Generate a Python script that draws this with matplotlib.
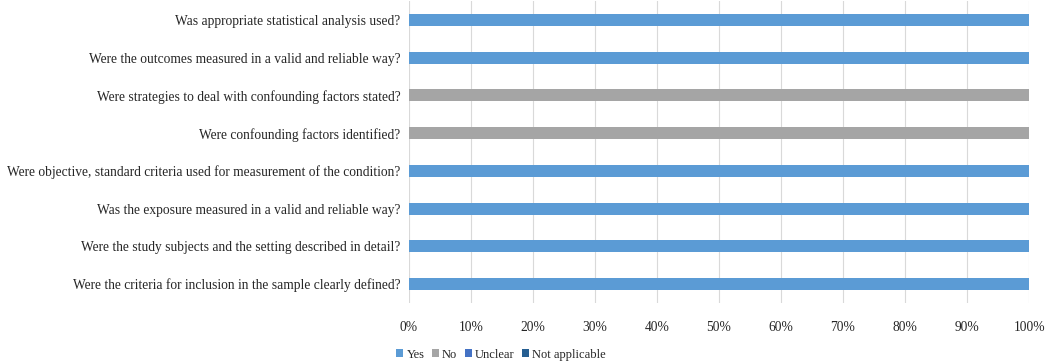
import numpy as np
import matplotlib.pyplot as plt

# Questions (bottom to top as drawn)
questions = [
    "Were the criteria for inclusion in the sample clearly defined?",
    "Were the study subjects and the setting described in detail?",
    "Was the exposure measured in a valid and reliable way?",
    "Were objective, standard criteria used for measurement of the condition?",
    "Were confounding factors identified?",
    "Were strategies to deal with confounding factors stated?",
    "Were the outcomes measured in a valid and reliable way?",
    "Was appropriate statistical analysis used?",
]

# Share of studies per answer (%)
yes = [100, 100, 100, 100, 0, 0, 100, 100]
no = [0, 0, 0, 0, 100, 100, 0, 0]
unclear = [0, 0, 0, 0, 0, 0, 0, 0]
not_applicable = [0, 0, 0, 0, 0, 0, 0, 0]

series = [("Yes", yes, "#5B9BD5"),
          ("No", no, "#A5A5A5"),
          ("Unclear", unclear, "#4472C4"),
          ("Not applicable", not_applicable, "#255E91")]

plt.rcParams['font.family'] = ['Liberation Serif', 'DejaVu Serif']

fig = plt.figure(figsize=(10.48, 3.61), dpi=100)
ax = fig.add_axes([0.39, 0.161, 0.592, 0.836])

y = np.arange(len(questions))
left = np.zeros(len(questions))
for name, vals, col in series:
    vals = np.array(vals, dtype=float)
    ax.barh(y, vals, left=left, height=0.32, color=col, label=name, zorder=3)
    left += vals

ax.set_xlim(0, 100)
ax.set_ylim(-0.5, len(questions) - 0.5)
ax.set_xticks(np.arange(0, 101, 10))
ax.set_xticklabels([f"{v}%" for v in range(0, 101, 10)])
ax.set_yticks(y)
ax.set_yticklabels(questions)
ax.grid(axis='x', color='#D9D9D9', linewidth=0.8, zorder=0)
for s in ax.spines.values():
    s.set_visible(False)
ax.tick_params(axis='both', length=0, labelsize=9.75, colors='#262626')
ax.tick_params(axis='x', pad=13)
ax.tick_params(axis='y', pad=6)

fig.legend(loc='lower center', bbox_to_anchor=(0.478, -0.03), ncol=4,
           frameon=False, fontsize=9, handlelength=0.55, handleheight=0.55,
           handletextpad=0.25, columnspacing=0.6, labelcolor='#262626')

fig.savefig("out.png", dpi=100)
